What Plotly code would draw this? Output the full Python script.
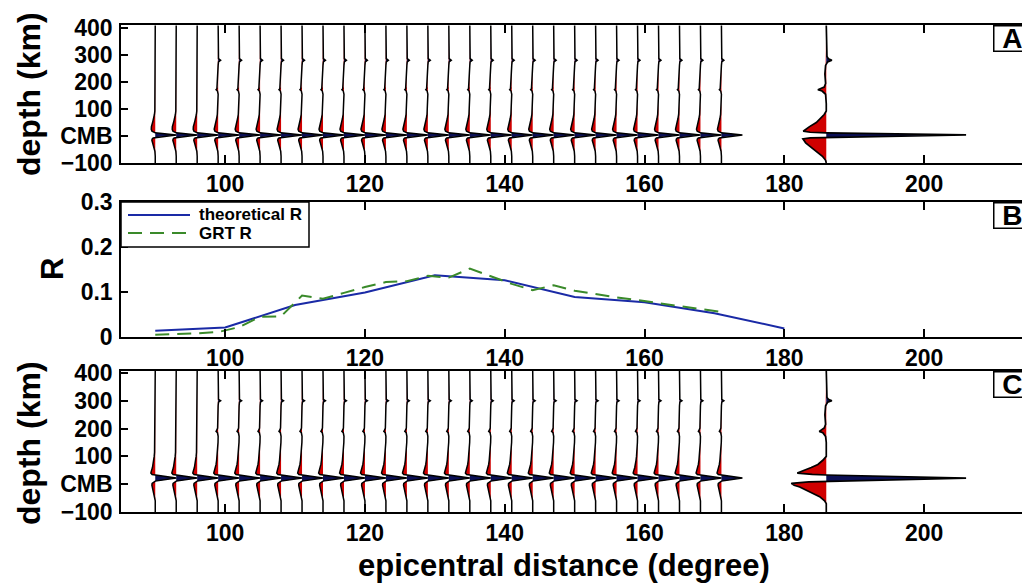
import plotly.graph_objects as go

# ---------------------------------------------------------------------------
# Data
# ---------------------------------------------------------------------------
# Epicentral distances (degree) of the individual migrated traces
TRACE_DIST = [90, 93, 96, 99, 102, 105, 108, 111, 114, 117, 120, 123, 126, 129,
              132, 135, 138, 141, 144, 147, 150, 153, 156, 159, 162, 165, 168, 171]
# Distance at which the stacked trace is plotted
STACK_DIST = 186
# Shallow arrivals (above 130 km) only show up from this distance on
SHALLOW_ONSET = 98
SHALLOW_DEPTH = 130

# Panel A: depth samples (km above CMB) and trace amplitudes (degree units)
DEPTH_A = [410, 320, 295, 287, 281, 275, 262, 230, 195, 182, 176, 172, 167, 155,
           120, 100, 93, 80, 65, 50, 35, 25, 18, 14, 12, 4, -4, -7, -11, -16,
           -25, -40, -57, -75, -90, -100]
TRACE_A = [0, 0, 0, 0.05, 0.35, 0.05, 0, -0.05, -0.05, -0.08, -0.18, -0.3, -0.1, 0,
           -0.03, -0.05, -0.06, -0.12, -0.22, -0.38, -0.55, -0.57, -0.47, -0.25, 0, 3.0,
           0, -0.3, -0.45, -0.48, -0.38, -0.22, -0.05, 0, 0, 0]
STACK_A = [0, 0.05, 0.1, 0.3, 0.8, 0.2, -0.1, -0.2, -0.1, -0.3, -0.8, -1.2, -0.6, -0.1,
           0, -0.05, 0, -0.3, -0.85, -1.43, -2.4, -2.95, -3.3, -2.3, 0, 20.0,
           0, -2.3, -3.34, -3.2, -2.95, -2.25, -1.35, -0.55, -0.1, 0]

# Panel C: depth samples (km above CMB) and trace amplitudes (degree units)
DEPTH_C = [407, 330, 312, 305, 300, 295, 282, 250, 215, 202, 195, 190, 185, 172,
           150, 130, 115, 100, 86, 71, 60, 48, 40, 35, 33, 22, 11, 8, 3, -4,
           -10, -27, -45, -60, -70, -85, -100]
TRACE_C = [0, 0, 0, 0.05, 0.35, 0.05, 0, -0.03, -0.05, -0.08, -0.18, -0.3, -0.1, 0,
           -0.02, -0.05, -0.1, -0.15, -0.22, -0.3, -0.4, -0.55, -0.63, -0.45, 0, 3.0,
           0, -0.25, -0.45, -0.48, -0.42, -0.25, -0.05, 0, 0, 0, 0]
STACK_C = [0, 0.05, 0.1, 0.3, 0.8, 0.2, -0.1, -0.2, -0.1, -0.3, -0.7, -1.0, -0.5, -0.1,
           0, 0, -0.05, 0, -0.5, -1.2, -2.15, -3.3, -4.15, -2.0, 0, 20.0,
           0, -2.5, -5.0, -4.6, -3.8, -2.4, -0.95, -0.24, 0, 0, 0]

# Panel B: reflection coefficient R versus distance
R_THEORY_DIST = [90, 100, 110, 120, 130, 140, 150, 160, 170, 180]
R_THEORY = [0.014, 0.021, 0.071, 0.099, 0.137, 0.126, 0.089, 0.077, 0.053, 0.019]
R_GRT = [0.005, 0.006, 0.008, 0.011, 0.022, 0.045, 0.046, 0.092, 0.085, 0.098,
         0.111, 0.122, 0.124, 0.136, 0.132, 0.152, 0.135, 0.118, 0.104, 0.115,
         0.103, 0.095, 0.088, 0.082, 0.075, 0.068, 0.062, 0.056]
SERIES_NAMES = ["theoretical R", "GRT R"]

X_TICKS = [100, 120, 140, 160, 180, 200]
DEPTH_TICKS = [-100, 0, 100, 200, 300, 400]
DEPTH_TICKTEXT = ["\u2212100", "CMB", "100", "200", "300", "400"]
R_TICKS = [0, 0.1, 0.2, 0.3]
R_TICKTEXT = ["0", "0.1", "0.2", "0.3"]
PANEL_LABELS = ["A", "B", "C"]

# ---------------------------------------------------------------------------
# Styling
# ---------------------------------------------------------------------------
W, H = 1022, 584
FONT = "Liberation Sans, Arial, Helvetica, sans-serif"
NEG_FILL = "#d00000"
POS_FILL = "#0b0f55"
BLUE = "#1a2aa6"
GREEN = "#3a8a2a"
GREEN_DASH = "14px,8px"


def px_x(p):
    return p / W


def px_y(p):
    return 1 - p / H


X_DOMAIN = [px_x(121), 1.0]
X_RANGE = [85.1, 214.0]


def wiggle_paths(dists, depth, amp, shallow_rule=True):
    """Build None-separated outline / positive / negative fill paths."""
    lx, ly, px_, py_, nx, ny = [], [], [], [], [], []
    for d in dists:
        a = list(amp)
        if shallow_rule and d < SHALLOW_ONSET:
            a = [0 if z > SHALLOW_DEPTH else v for z, v in zip(depth, a)]
        lx += [d + v for v in a] + [None]
        ly += list(depth) + [None]
        px_ += [d + max(v, 0) for v in a] + [d, d, None]
        py_ += list(depth) + [depth[-1], depth[0], None]
        nx += [d + min(v, 0) for v in a] + [d, d, None]
        ny += list(depth) + [depth[-1], depth[0], None]
    return (lx, ly), (px_, py_), (nx, ny)


fig = go.Figure()


def add_wiggles(xref, yref, dists, depth, amp, lw, shallow_rule=True):
    (lx, ly), (pxs, pys), (nxs, nys) = wiggle_paths(dists, depth, amp, shallow_rule)
    fig.add_trace(go.Scatter(x=nxs, y=nys, xaxis=xref, yaxis=yref, mode="lines",
                             fill="toself", fillcolor=NEG_FILL, line=dict(width=0),
                             hoverinfo="skip", showlegend=False))
    fig.add_trace(go.Scatter(x=pxs, y=pys, xaxis=xref, yaxis=yref, mode="lines",
                             fill="toself", fillcolor=POS_FILL, line=dict(width=0),
                             hoverinfo="skip", showlegend=False))
    fig.add_trace(go.Scatter(x=lx, y=ly, xaxis=xref, yaxis=yref, mode="lines",
                             line=dict(color="black", width=lw),
                             hoverinfo="skip", showlegend=False))


# Panel A: migrated traces and their stack
add_wiggles("x", "y", TRACE_DIST, DEPTH_A, TRACE_A, 1.5)
add_wiggles("x", "y", [STACK_DIST], DEPTH_A, STACK_A, 1.7, shallow_rule=False)

# Panel C: migrated traces and their stack
add_wiggles("x3", "y3", TRACE_DIST, DEPTH_C, TRACE_C, 1.5)
add_wiggles("x3", "y3", [STACK_DIST], DEPTH_C, STACK_C, 1.7, shallow_rule=False)

# Panel B: reflection coefficient curves
fig.add_trace(go.Scatter(x=R_THEORY_DIST, y=R_THEORY, xaxis="x2", yaxis="y2",
                         mode="lines", name=SERIES_NAMES[0], showlegend=False,
                         line=dict(color=BLUE, width=2)))
fig.add_trace(go.Scatter(x=TRACE_DIST, y=R_GRT, xaxis="x2", yaxis="y2",
                         mode="lines", name=SERIES_NAMES[1], showlegend=False,
                         line=dict(color=GREEN, width=2, dash=GREEN_DASH)))

tick_font = dict(family=FONT, size=23, color="black", weight=700)


def xaxis_cfg(anchor):
    return dict(domain=X_DOMAIN, range=X_RANGE, anchor=anchor,
                tickmode="array", tickvals=X_TICKS,
                ticks="inside", ticklen=8, tickwidth=1.5, tickcolor="black",
                showline=True, linewidth=1.5, linecolor="black", mirror="ticks",
                showgrid=False, zeroline=False, tickfont=tick_font,
                automargin=False, fixedrange=True)


def yaxis_cfg(anchor, dom, rng, vals, text):
    return dict(domain=dom, range=rng, anchor=anchor,
                tickmode="array", tickvals=vals, ticktext=text,
                ticks="inside", ticklen=7, tickwidth=1.5, tickcolor="black",
                showline=True, linewidth=1.5, linecolor="black",
                showgrid=False, zeroline=False, tickfont=tick_font,
                ticklabelstandoff=2,
                automargin=False, fixedrange=True)


def yaxis_right(over, anchor, rng, vals):
    return dict(overlaying=over, anchor=anchor, side="right", range=rng,
                tickmode="array", tickvals=vals, showticklabels=False,
                ticks="inside", ticklen=7, tickwidth=1.5, tickcolor="black",
                showline=False, showgrid=False, zeroline=False,
                automargin=False, fixedrange=True)


DOM_A = [px_y(163), px_y(25)]
DOM_B = [px_y(337), px_y(202)]
DOM_C = [px_y(512), px_y(371)]
RNG_A = [-100, 412]
RNG_B = [0, 0.3]
RNG_C = [-100, 407]

annotations = [
    dict(text="depth (km)", x=px_x(29), y=px_y(94), textangle=-90, size=32),
    dict(text="depth (km)", x=px_x(29), y=px_y(443), textangle=-90, size=32),
    dict(text="R", x=px_x(52), y=px_y(269), textangle=-90, size=31),
    dict(text="epicentral distance (degree)", x=px_x(564), y=px_y(565), size=31),
]
for a in annotations:
    size = a.pop("size")
    a.update(xref="paper", yref="paper", showarrow=False,
             xanchor="center", yanchor="middle",
             font=dict(family=FONT, size=size, color="black", weight=700))

# Panel letters in framed boxes at the top right of each panel
for label, top in zip(PANEL_LABELS, (25, 202, 371)):
    annotations.append(dict(
        text="&nbsp;" + label, x=px_x(993), y=px_y(top),
        xref="paper", yref="paper", xanchor="left", yanchor="top",
        width=48, height=24, align="left", valign="middle",
        showarrow=False, bgcolor="white", bordercolor="black", borderwidth=1.5,
        borderpad=0,
        font=dict(family=FONT, size=28, color="black", weight=700)))

# Legend for panel B: frame, line samples and labels
LEG_L, LEG_R, LEG_T, LEG_B = 121, 309, 202, 247
LEG_ROWS = [215, 233]
shapes = [dict(type="rect", xref="paper", yref="paper",
               x0=px_x(LEG_L), x1=px_x(LEG_R), y0=px_y(LEG_B), y1=px_y(LEG_T),
               line=dict(color="black", width=1.5), fillcolor="white",
               layer="above")]
for row, color, dash in zip(LEG_ROWS, (BLUE, GREEN), ("solid", GREEN_DASH)):
    shapes.append(dict(type="line", xref="paper", yref="paper",
                       x0=px_x(128), x1=px_x(190), y0=px_y(row), y1=px_y(row),
                       line=dict(color=color, width=2, dash=dash),
                       layer="above"))
for row, name in zip(LEG_ROWS, SERIES_NAMES):
    annotations.append(dict(
        text=name, x=px_x(197), y=px_y(row), xref="paper", yref="paper",
        xanchor="left", yanchor="middle", showarrow=False,
        font=dict(family=FONT, size=17, color="black", weight=700)))

fig.update_layout(
    width=W, height=H,
    margin=dict(l=0, r=0, t=0, b=0, pad=0, autoexpand=False),
    paper_bgcolor="white", plot_bgcolor="white",
    font=dict(family=FONT, color="black"),
    xaxis=xaxis_cfg("y"),
    xaxis2=xaxis_cfg("y2"),
    xaxis3=xaxis_cfg("y3"),
    yaxis=yaxis_cfg("x", DOM_A, RNG_A, DEPTH_TICKS, DEPTH_TICKTEXT),
    yaxis2=yaxis_cfg("x2", DOM_B, RNG_B, R_TICKS, R_TICKTEXT),
    yaxis3=yaxis_cfg("x3", DOM_C, RNG_C, DEPTH_TICKS, DEPTH_TICKTEXT),
    yaxis4=yaxis_right("y", "x", RNG_A, DEPTH_TICKS),
    yaxis5=yaxis_right("y2", "x2", RNG_B, R_TICKS),
    yaxis6=yaxis_right("y3", "x3", RNG_C, DEPTH_TICKS),
    showlegend=False,
    shapes=shapes,
    annotations=annotations,
)

fig.write_html("out.html")
